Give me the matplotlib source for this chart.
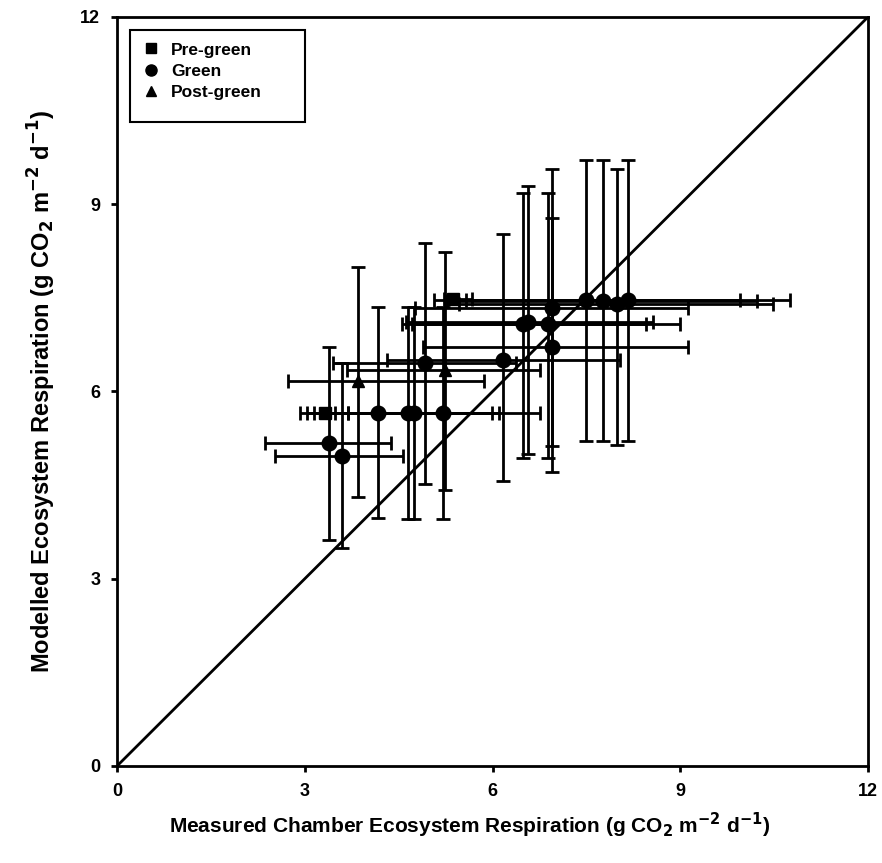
import numpy as np
import matplotlib.pyplot as plt
from matplotlib.lines import Line2D
from matplotlib.patches import Rectangle

plt.rcParams['font.family'] = ['Liberation Sans', 'DejaVu Sans']

# Pre-green (squares)
pre_x = [3.32, 5.37]
pre_y = [5.66, 7.48]
pre_xlo = [2.93, 5.22]
pre_xhi = [3.69, 5.67]
pre_ylo = [5.66, 7.48]
pre_yhi = [5.66, 7.48]

# Green (circles)
green_x = [3.38, 3.60, 4.17, 4.65, 4.75, 5.21, 4.92, 6.17, 6.48, 6.56,
           6.89, 6.95, 6.95, 7.50, 7.77, 7.99, 8.16]
green_y = [5.18, 4.97, 5.66, 5.66, 5.66, 5.66, 6.45, 6.50, 7.08, 7.12,
           7.08, 6.71, 7.33, 7.47, 7.45, 7.40, 7.47]
green_xlo = [2.37, 2.52, 3.04, 3.14, 3.49, 3.69, 3.45, 4.32, 4.56, 4.61,
             4.71, 4.89, 4.76, 5.06, 5.27, 5.47, 5.57]
green_xhi = [4.37, 4.57, 5.23, 5.99, 6.11, 6.76, 6.38, 8.03, 8.45, 8.56,
             8.99, 9.12, 9.12, 9.96, 10.22, 10.48, 10.76]
green_ylo = [3.62, 3.49, 3.97, 3.96, 3.96, 3.96, 4.52, 4.57, 4.93, 5.00,
             4.93, 4.71, 5.13, 5.20, 5.20, 5.15, 5.20]
green_yhi = [6.71, 6.45, 7.36, 7.36, 7.36, 7.36, 8.38, 8.53, 9.18, 9.29,
             9.18, 8.78, 9.57, 9.70, 9.70, 9.57, 9.70]

# Post-green (triangles)
post_x = [3.85, 5.24]
post_y = [6.17, 6.35]
post_xlo = [2.73, 3.68]
post_xhi = [5.87, 6.76]
post_ylo = [4.31, 4.42]
post_yhi = [8.00, 8.24]

ticks = [0, 3, 6, 9, 12]


def draw_group(ax, x, y, xlo, xhi, ylo, yhi, marker, ms, label):
    x = np.array(x)
    y = np.array(y)
    xerr = [x - np.array(xlo), np.array(xhi) - x]
    yerr = [y - np.array(ylo), np.array(yhi) - y]
    ax.errorbar(x, y, xerr=xerr, yerr=yerr, fmt=marker, color='black',
                ms=ms, elinewidth=2, capsize=5, capthick=2,
                label=label, zorder=3)


fig = plt.figure(figsize=(8.82, 8.63), dpi=100)
ax = fig.add_axes([0.1327, 0.1124, 0.8515, 0.868])

# 1:1 line
ax.plot([0, 12], [0, 12], color='black', lw=2, zorder=2)

draw_group(ax, pre_x, pre_y, pre_xlo, pre_xhi, pre_ylo, pre_yhi, 's', 8, 'Pre-green')
draw_group(ax, green_x, green_y, green_xlo, green_xhi, green_ylo, green_yhi, 'o', 10.5, 'Green')
draw_group(ax, post_x, post_y, post_xlo, post_xhi, post_ylo, post_yhi, '^', 9, 'Post-green')

ax.set_xlim(0, 12)
ax.set_ylim(0, 12)
ax.set_xticks(ticks)
ax.set_yticks(ticks)
ax.tick_params(direction='out', length=4, width=2, labelsize=13, pad=8)
for lab in ax.get_xticklabels() + ax.get_yticklabels():
    lab.set_fontweight('bold')
for s in ax.spines.values():
    s.set_linewidth(2)

ax.set_xlabel(r'Measured Chamber Ecosystem Respiration (g CO$_\mathbf{2}$ m$^\mathbf{-2}$ d$^\mathbf{-1}$)',
              fontsize=15, fontweight='bold', labelpad=8)
ax.xaxis.label.set_x(0.47)
ax.set_ylabel(r'Modelled Ecosystem Respiration (g CO$_\mathbf{2}$ m$^\mathbf{-2}$ d$^\mathbf{-1}$)',
              fontsize=17, fontweight='bold', labelpad=16)

# legend box drawn separately so its size can be set directly
ax.add_patch(Rectangle((0.0173, 0.860), 0.233, 0.123, transform=ax.transAxes,
                       facecolor='white', edgecolor='black', lw=1.5, zorder=4))
handles = [Line2D([], [], marker='s', color='black', ls='none', ms=7),
           Line2D([], [], marker='o', color='black', ls='none', ms=8),
           Line2D([], [], marker='^', color='black', ls='none', ms=7)]
leg = ax.legend(handles, ['Pre-green', 'Green', 'Post-green'],
                loc='upper left', bbox_to_anchor=(0.033, 0.966),
                borderaxespad=0, borderpad=0, frameon=False,
                prop={'size': 12.5, 'weight': 'bold'},
                handlelength=1.0, handletextpad=0.7, labelspacing=0.36)
leg.set_zorder(5)

fig.savefig('out.png', dpi=100)
